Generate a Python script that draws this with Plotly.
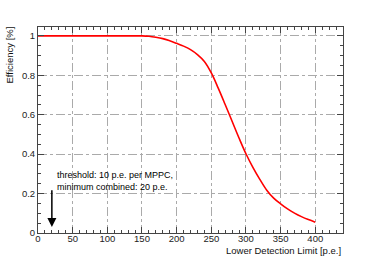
import plotly.graph_objects as go

limit_pe = [0, 10, 20, 30, 40, 50, 60, 70, 80, 90, 100, 110, 120, 130, 140, 150,
            160, 170, 180, 190, 200, 210, 220, 230, 240, 250, 260, 270, 280, 290,
            300, 310, 320, 330, 340, 350, 360, 370, 380, 390, 400]
efficiency = [1.0, 1.0, 1.0, 1.0, 1.0, 1.0, 1.0, 1.0, 1.0, 1.0, 1.0, 1.0, 1.0, 1.0, 1.0, 1.0,
              0.998, 0.993, 0.986, 0.975, 0.962, 0.948, 0.930, 0.905, 0.870, 0.812, 0.735,
              0.652, 0.567, 0.482, 0.402, 0.333, 0.272, 0.217, 0.177, 0.148, 0.122, 0.101,
              0.083, 0.068, 0.055]
x_ticks = [0, 50, 100, 150, 200, 250, 300, 350, 400]
y_ticks = [0, 0.2, 0.4, 0.6, 0.8, 1]
threshold_x = 20
arrow_top = 0.225
arrow_tip = 0.03

FONT = "Liberation Sans"

fig = go.Figure()
fig.add_trace(go.Scatter(x=limit_pe, y=efficiency, mode="lines", line_shape="spline",
                         line=dict(color="#ff0000", width=1.6), showlegend=False,
                         hoverinfo="skip"))

axis_common = dict(
    showline=True, linecolor="#444444", linewidth=1, mirror="ticks",
    ticks="inside", ticklen=6, tickcolor="#444444", tickwidth=1,
    showgrid=True, gridcolor="#aaaaaa", griddash="dashdot", gridwidth=1,
    zeroline=False, automargin=False,
    tickfont=dict(family=FONT, size=9.5, color="#222222"),
)

fig.update_xaxes(range=[0, 440], tickvals=x_ticks, ticklabelstandoff=-3,
                 minor=dict(ticks="inside", ticklen=3, dtick=10, tickcolor="#444444",
                            showgrid=False),
                 **axis_common)
fig.update_yaxes(range=[0, 1.045], tickvals=y_ticks,
                 minor=dict(ticks="inside", ticklen=3, dtick=0.05, tickcolor="#444444",
                            showgrid=False),
                 **axis_common)

fig.add_annotation(text="Efficiency [%]", xref="paper", yref="paper",
                   x=-0.095, y=1.01, xanchor="center", yanchor="top",
                   textangle=-90, showarrow=False,
                   font=dict(family=FONT, size=9.5, color="#111111"))
fig.add_annotation(text="Lower Detection Limit [p.e.]", xref="paper", yref="paper",
                   x=1.0, y=-0.05, xanchor="right", yanchor="top",
                   showarrow=False, font=dict(family=FONT, size=9.5, color="#111111"))
fig.add_annotation(text="threshold: 10 p.e. per MPPC,<br>minimum combined: 20 p.e.",
                   xref="x", yref="y", x=25, y=0.262, xanchor="left", yanchor="middle",
                   align="left", showarrow=False,
                   font=dict(family=FONT, size=9, color="#000000"))
fig.add_annotation(x=threshold_x, y=arrow_tip, ax=threshold_x, ay=arrow_top,
                   xref="x", yref="y", axref="x", ayref="y", text="",
                   showarrow=True, arrowhead=2, arrowsize=1.2, arrowwidth=1.5,
                   arrowcolor="#000000")

fig.update_layout(width=382, height=259, margin=dict(l=38, r=39, t=27, b=26),
                  paper_bgcolor="white", plot_bgcolor="white",
                  font=dict(family=FONT))

# remove the browser's default 8 px body margin so the figure fills the window
fig.write_html("out.html", config={"displayModeBar": False},
               post_script="document.body.style.margin='0';document.body.style.overflow='hidden';")
